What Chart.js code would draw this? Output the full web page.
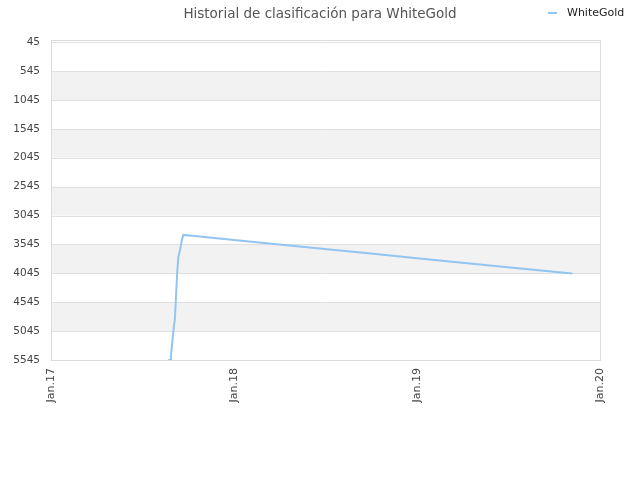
<!DOCTYPE html>
<html>
<head>
<meta charset="utf-8">
<script src="https://cdn.jsdelivr.net/npm/chart.js@4/dist/chart.umd.min.js"></script>
<style>
  html, body { margin: 0; padding: 0; background: #fff; }
  #wrap { position: relative; width: 640px; height: 480px; }
  #legend { position: absolute; left: 548px; top: 6px; font: 11px "DejaVu Sans", sans-serif; color: #222; white-space: nowrap; }
  #legend .mark { display: inline-block; width: 9px; height: 2px; background: #92c5f0; vertical-align: middle; margin-right: 10px; }
</style>
</head>
<body>
<div id="wrap">
  <canvas id="c" width="640" height="480"></canvas>
  <div id="legend"><span class="mark"></span>WhiteGold</div>
</div>
<script>
// ranking history
var seriesName = 'WhiteGold';
var rankDates = ['2017-08-23', '2017-08-27', '2017-08-28', '2017-08-30', '2017-09-01', '2017-09-03',
                 '2017-09-05', '2017-09-06', '2017-09-08', '2017-09-10', '2017-09-12', '2017-09-14',
                 '2017-09-16', '2017-09-19', '2017-09-22', '2017-10-15', '2018-01-01', '2018-04-01',
                 '2018-07-01', '2018-10-01', '2019-01-01', '2019-04-01', '2019-07-01', '2019-10-01',
                 '2019-11-07'];
var rankValues = [5545, 5540, 5490, 5315, 5140, 4970,
                  4850, 4680, 4330, 3990, 3760, 3695,
                  3610, 3470, 3380, 3401, 3467, 3545,
                  3623, 3702, 3782, 3860, 3938, 4017,
                  4050];
var xTickDates = ['2017-01-01', '2018-01-01', '2019-01-01', '2020-01-01'];
var xTickLabels = ['Jan.17', 'Jan.18', 'Jan.19', 'Jan.20'];
var yMin = 45, yMax = 5545, yStep = 500;

function ms(d) { return Date.parse(d + 'T00:00:00Z'); }

var points = rankDates.map(function(d, i) { return { x: ms(d), y: rankValues[i] }; });
var xTicks = xTickDates.map(ms);

// alternating grey bands + plot frame
var bands = {
    id: 'bands',
    beforeDatasetsDraw: function(chart) {
        var a = chart.chartArea, y = chart.scales.y, ctx = chart.ctx;
        ctx.save();
        ctx.fillStyle = '#f2f2f2';
        for (var v = yMin + yStep; v + yStep <= yMax; v += 2 * yStep) {
            var p1 = y.getPixelForValue(v), p2 = y.getPixelForValue(v + yStep);
            ctx.fillRect(a.left, p1, a.right - a.left, p2 - p1);
        }
        ctx.strokeStyle = '#e0e0e0';
        ctx.lineWidth = 1;
        for (var t = yMin; t <= yMax; t += yStep) {
            var p = Math.round(y.getPixelForValue(t)) + 0.5;
            ctx.beginPath(); ctx.moveTo(a.left, p); ctx.lineTo(a.right, p); ctx.stroke();
        }
        ctx.strokeStyle = '#dcdcdc';
        ctx.strokeRect(Math.round(a.left) + 0.5, Math.round(a.top) - 1.5, Math.round(a.right - a.left), Math.round(a.bottom - a.top) + 2);
        ctx.restore();
    }
};

new Chart(document.getElementById('c'), {
    type: 'line',
    data: { datasets: [{ label: seriesName, data: points, borderColor: '#92c5f0', borderWidth: 2,
                         fill: false, pointRadius: 0, tension: 0 }] },
    options: {
        responsive: false, animation: false,
        layout: { padding: 0 },
        plugins: {
            legend: { display: false },
            tooltip: { enabled: false },
            title: { display: true, text: 'Historial de clasificación para WhiteGold', color: '#555',
                     font: { family: 'DejaVu Sans', size: 13.5, weight: 'normal' }, padding: { top: 6, bottom: 20 } }
        },
        scales: {
            x: {
                type: 'linear', min: xTicks[0], max: xTicks[xTicks.length - 1],
                afterBuildTicks: function(s) { s.ticks = xTicks.map(function(v) { return { value: v }; }); },
                afterFit: function(s) { s.height = 120; },
                ticks: { autoSkip: false, minRotation: 90, maxRotation: 90, padding: 8, color: '#444',
                         font: { family: 'DejaVu Sans', size: 11 },
                         callback: function(v) { return xTickLabels[xTicks.indexOf(v)]; } },
                grid: { display: false, drawTicks: false },
                border: { display: false }
            },
            y: {
                reverse: true, min: yMin, max: yMax,
                afterFit: function(s) { s.width = 51; },
                ticks: { stepSize: yStep, padding: 11, color: '#444', font: { family: 'DejaVu Sans', size: 10.5 },
                         callback: function(v) { return String(v); } },
                grid: { display: false, drawTicks: false },
                border: { display: false }
            },
            // empty right axis, only reserves the right margin
            yRight: {
                position: 'right', min: yMin, max: yMax,
                afterFit: function(s) { s.width = 40; },
                ticks: { display: false },
                grid: { display: false, drawTicks: false },
                border: { display: false }
            }
        }
    },
    plugins: [bands]
});
</script>
</body>
</html>
